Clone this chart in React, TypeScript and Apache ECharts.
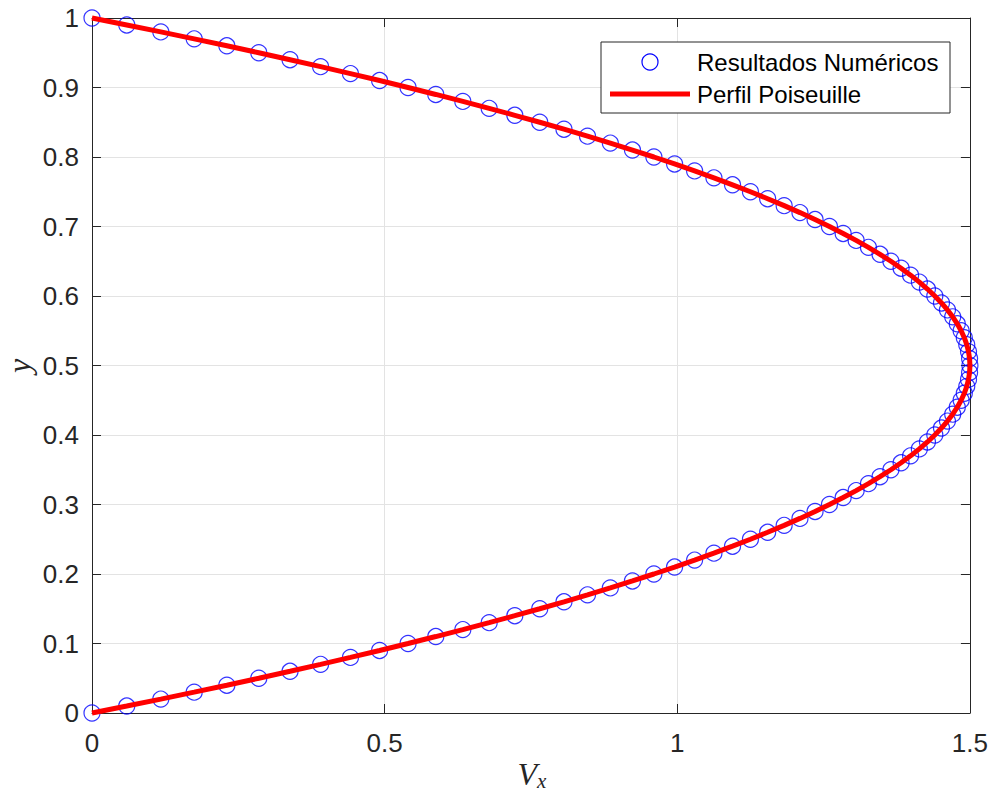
import React, { useEffect, useRef } from "react";
import * as echarts from "echarts";

const yValues = [
  0, 0.01, 0.02, 0.03, 0.04, 0.05, 0.06, 0.07, 0.08, 0.09,
  0.1, 0.11, 0.12, 0.13, 0.14, 0.15, 0.16, 0.17, 0.18, 0.19,
  0.2, 0.21, 0.22, 0.23, 0.24, 0.25, 0.26, 0.27, 0.28, 0.29,
  0.3, 0.31, 0.32, 0.33, 0.34, 0.35, 0.36, 0.37, 0.38, 0.39,
  0.4, 0.41, 0.42, 0.43, 0.44, 0.45, 0.46, 0.47, 0.48, 0.49,
  0.5, 0.51, 0.52, 0.53, 0.54, 0.55, 0.56, 0.57, 0.58, 0.59,
  0.6, 0.61, 0.62, 0.63, 0.64, 0.65, 0.66, 0.67, 0.68, 0.69,
  0.7, 0.71, 0.72, 0.73, 0.74, 0.75, 0.76, 0.77, 0.78, 0.79,
  0.8, 0.81, 0.82, 0.83, 0.84, 0.85, 0.86, 0.87, 0.88, 0.89,
  0.9, 0.91, 0.92, 0.93, 0.94, 0.95, 0.96, 0.97, 0.98, 0.99,
  1,
];

const numericVx = [
  0, 0.0594, 0.1176, 0.1746, 0.2304, 0.285, 0.3384, 0.3906, 0.4416, 0.4914,
  0.54, 0.5874, 0.6336, 0.6786, 0.7224, 0.765, 0.8064, 0.8466, 0.8856, 0.9234,
  0.96, 0.9954, 1.0296, 1.0626, 1.0944, 1.125, 1.1544, 1.1826, 1.2096, 1.2354,
  1.26, 1.2834, 1.3056, 1.3266, 1.3464, 1.365, 1.3824, 1.3986, 1.4136, 1.4274,
  1.44, 1.4514, 1.4616, 1.4706, 1.4784, 1.485, 1.4904, 1.4946, 1.4976, 1.4994,
  1.5, 1.4994, 1.4976, 1.4946, 1.4904, 1.485, 1.4784, 1.4706, 1.4616, 1.4514,
  1.44, 1.4274, 1.4136, 1.3986, 1.3824, 1.365, 1.3464, 1.3266, 1.3056, 1.2834,
  1.26, 1.2354, 1.2096, 1.1826, 1.1544, 1.125, 1.0944, 1.0626, 1.0296, 0.9954,
  0.96, 0.9234, 0.8856, 0.8466, 0.8064, 0.765, 0.7224, 0.6786, 0.6336, 0.5874,
  0.54, 0.4914, 0.4416, 0.3906, 0.3384, 0.285, 0.2304, 0.1746, 0.1176, 0.0594,
  0,
];

const profileVx = numericVx;

const legendLabels = ["Resultados Numéricos", "Perfil Poiseuille"];

export default function App() {
  const ref = useRef<HTMLDivElement>(null);

  useEffect(() => {
    if (!ref.current) return;
    const chart = echarts.init(ref.current, undefined, { renderer: "svg" });
    const axisColor = "#262626";
    const tickFont = {
      fontFamily: "Liberation Sans",
      fontSize: 26,
      color: axisColor,
    };
    const scatterData = yValues.map((y, i) => [numericVx[i], y]);
    const lineData = yValues.map((y, i) => [profileVx[i], y]);

    const baseX = {
      type: "value" as const,
      min: 0,
      max: 1.5,
      interval: 0.5,
      axisLine: { show: true, onZero: false, lineStyle: { color: axisColor, width: 1 } },
      axisTick: { show: true, inside: true, length: 9, lineStyle: { color: axisColor } },
    };
    const baseY = {
      type: "value" as const,
      min: 0,
      max: 1,
      interval: 0.1,
      axisLine: { show: true, onZero: false, lineStyle: { color: axisColor, width: 1 } },
      axisTick: { show: true, inside: true, length: 9, lineStyle: { color: axisColor } },
    };

    chart.setOption({
      animation: false,
      backgroundColor: "#ffffff",
      grid: { left: 92, top: 18, width: 879, height: 695, containLabel: false },
      xAxis: [
        {
          ...baseX,
          position: "bottom",
          axisLabel: { ...tickFont, margin: 17 },
          splitLine: { show: true, lineStyle: { color: "#e3e3e3", width: 1 } },
        },
        {
          ...baseX,
          position: "top",
          axisLabel: { show: false },
          splitLine: { show: false },
        },
      ],
      yAxis: [
        {
          ...baseY,
          position: "left",
          axisLabel: { ...tickFont, margin: 13 },
          splitLine: { show: true, lineStyle: { color: "#e3e3e3", width: 1 } },
        },
        {
          ...baseY,
          position: "right",
          axisLabel: { show: false },
          splitLine: { show: false },
        },
      ],
      series: [
        {
          name: legendLabels[0],
          type: "scatter",
          data: scatterData,
          symbol: "circle",
          symbolSize: 16,
          clip: false,
          itemStyle: { color: "rgba(0,0,0,0)", borderColor: "#0000ff", borderWidth: 1.2 },
          z: 2,
        },
        {
          name: legendLabels[1],
          type: "line",
          data: lineData,
          showSymbol: false,
          symbol: "none",
          clip: false,
          lineStyle: { color: "#ff0000", width: 5 },
          z: 3,
        },
      ],
      graphic: [
        {
          type: "rect",
          z: 100,
          shape: { x: 601, y: 42, width: 349, height: 71 },
          style: { fill: "#ffffff", stroke: "#262626", lineWidth: 1 },
        },
        {
          type: "circle",
          z: 101,
          shape: { cx: 650, cy: 62, r: 8 },
          style: { fill: "none", stroke: "#0000ff", lineWidth: 1.2 },
        },
        {
          type: "line",
          z: 101,
          shape: { x1: 610, y1: 94, x2: 690, y2: 94 },
          style: { stroke: "#ff0000", lineWidth: 5 },
        },
        {
          type: "text",
          z: 101,
          x: 697,
          y: 62,
          style: {
            text: legendLabels[0],
            font: "24px 'Liberation Sans'",
            fill: "#000000",
            verticalAlign: "middle",
            align: "left",
          },
        },
        {
          type: "text",
          z: 101,
          x: 697,
          y: 94,
          style: {
            text: legendLabels[1],
            font: "24px 'Liberation Sans'",
            fill: "#000000",
            verticalAlign: "middle",
            align: "left",
          },
        },
        {
          type: "text",
          z: 101,
          x: 537,
          y: 790,
          style: {
            text: "V",
            font: "italic 32px 'Liberation Serif'",
            fill: "#262626",
            verticalAlign: "bottom",
            align: "right",
          },
        },
        {
          type: "text",
          z: 101,
          x: 537,
          y: 791,
          style: {
            text: "x",
            font: "italic 21px 'Liberation Serif'",
            fill: "#262626",
            verticalAlign: "bottom",
            align: "left",
          },
        },
        {
          type: "text",
          z: 101,
          x: 19,
          y: 366,
          rotation: Math.PI / 2,
          style: {
            text: "y",
            font: "italic 32px 'Liberation Serif'",
            fill: "#262626",
            verticalAlign: "middle",
            align: "center",
          },
        },
      ],
    });
    return () => chart.dispose();
  }, []);

  return (
    <div
      ref={ref}
      style={{ position: "fixed", left: 0, top: 0, width: 991, height: 792 }}
    />
  );
}
